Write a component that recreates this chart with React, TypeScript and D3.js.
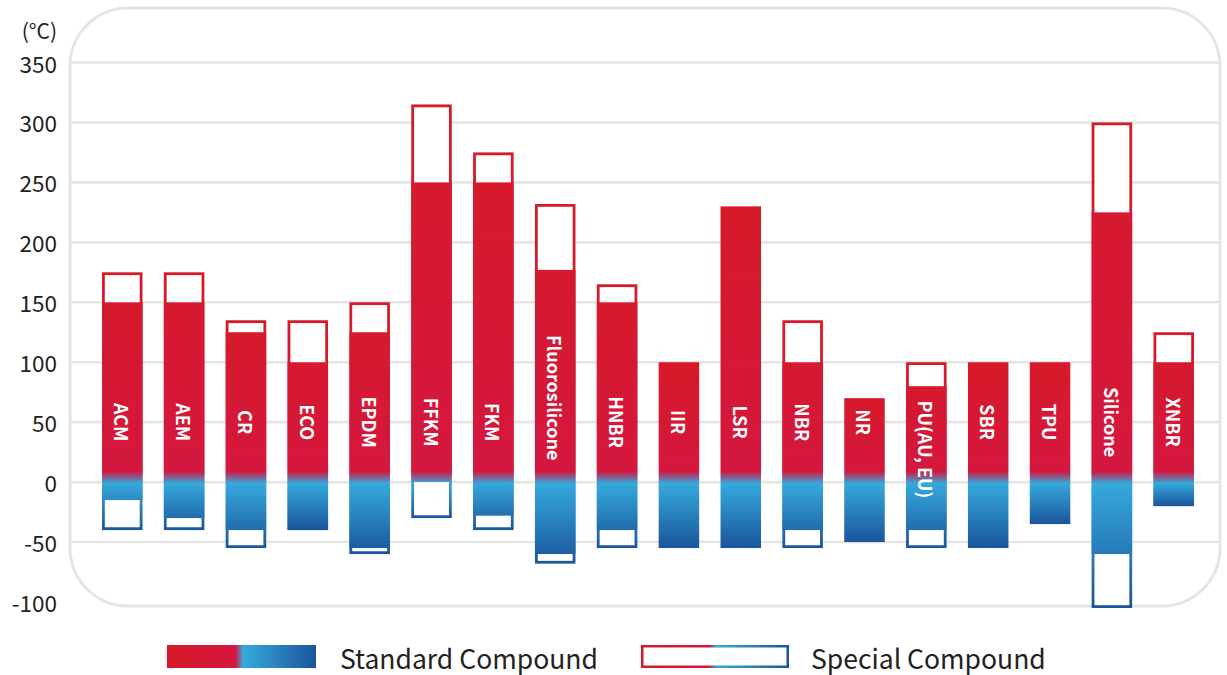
import React from "react";
import * as d3 from "d3";

const categories = ["ACM","AEM","CR","ECO","EPDM","FFKM","FKM","Fluorosilicone","HNBR","IIR","LSR","NBR","NR","PU(AU, EU)","SBR","TPU","Silicone","XNBR"];
const standardHigh = [150,150,125,100,125,250,250,177,150,100,230,100,70,80,100,100,225,100];
const standardLow = [-15,-30,-40,-40,-55,0,-28,-60,-40,-55,-55,-40,-50,-40,-55,-35,-60,-20];
const specialHigh: (number|null)[] = [175,175,135,135,150,315,275,232,165,null,null,135,null,100,null,null,300,125];
const specialLow: (number|null)[] = [-40,-40,-55,-40,-60,-30,-40,-68,-55,null,null,-55,null,-55,null,null,-105,null];
const yTicks = [350,300,250,200,150,100,50,0,-50,-100];
const unitLabel = "(°C)";
const legendLabels = ["Standard Compound","Special Compound"];

const W = 1227, H = 675;
const FONT = "'Noto Sans CJK JP', 'Noto Sans', sans-serif";
const RED_TOP = "#d61a29";
const RED_BOT = "#d4173e";
const BLUE_LIGHT = "#36a9dc";
const BLUE_DARK = "#1a559c";

export default function App() {
  const y = d3.scaleLinear().domain([-100, 350]).range([602, 62.5]);
  const x = d3.scaleBand<string>().domain(categories).range([102, 1194]).paddingInner(0.345).paddingOuter(0);
  const frame = { x: 70, y: 8, w: 1150, h: 598, r: 58 };

  const bars = categories.map((c, i) => {
    const sh = specialHigh[i], sl = specialLow[i];
    const top = Math.max(standardHigh[i], sh ?? -Infinity);
    const bot = Math.min(standardLow[i], sl ?? Infinity);
    return { c, i, sh, sl, top, bot, hi: standardHigh[i], lo: standardLow[i] };
  });

  const off = (v: number, top: number, bot: number) => {
    const o = (y(v) - y(top)) / (y(bot) - y(top));
    return Math.max(0, Math.min(1, o));
  };

  return (
    <svg width={W} height={H} style={{ position: "absolute", left: 0, top: 0, background: "#fff" }} fontFamily={FONT}>
      <defs>
        <clipPath id="frameClip">
          <rect x={frame.x} y={frame.y} width={frame.w} height={frame.h} rx={frame.r} ry={frame.r} />
        </clipPath>
        {bars.map(b => (
          <linearGradient key={b.c} id={`g${b.i}`} gradientUnits="userSpaceOnUse" x1={0} x2={0} y1={y(b.top)} y2={y(b.bot)}>
            <stop offset={0} stopColor={RED_TOP} />
            <stop offset={off(9, b.top, b.bot)} stopColor={RED_BOT} />
            <stop offset={off(-1, b.top, b.bot)} stopColor={BLUE_LIGHT} />
            <stop offset={1} stopColor={BLUE_DARK} />
          </linearGradient>
        ))}
        <linearGradient id="legG" x1="0" x2="1" y1="0" y2="0">
          <stop offset={0} stopColor={RED_TOP} />
          <stop offset={0.46} stopColor={RED_BOT} />
          <stop offset={0.51} stopColor={BLUE_LIGHT} />
          <stop offset={1} stopColor={BLUE_DARK} />
        </linearGradient>
      </defs>

      {/* frame */}
      <g clipPath="url(#frameClip)">
        {yTicks.filter(t => t > -100).map(t => (
          <line key={t} x1={frame.x} x2={frame.x + frame.w} y1={y(t)} y2={y(t)} stroke="#e5e5e5" strokeWidth={2.6} />
        ))}
      </g>
      <rect x={frame.x} y={frame.y} width={frame.w} height={frame.h} rx={frame.r} ry={frame.r} fill="none" stroke="#e5e5e5" strokeWidth={3} />

      {/* y labels */}
      {yTicks.map(t => (
        <text key={t} x={57} y={y(t)} textAnchor="end" dominantBaseline="central" fontSize={22.5} fill="#222">{t}</text>
      ))}
      <text x={57} y={30} textAnchor="end" dominantBaseline="central" fontSize={21} fill="#222">{unitLabel}</text>

      {/* bars */}
      {bars.map(b => {
        const bx = x(b.c)!;
        const bw = x.bandwidth();
        const fill = `url(#g${b.i})`;
        const els: React.ReactNode[] = [];
        if (b.sh != null || b.sl != null) {
          const st = b.sh ?? b.hi, sb = b.sl ?? b.lo;
          els.push(<rect key="so" x={bx} y={y(st)} width={bw} height={y(sb) - y(st)} fill={fill} />);
          els.push(<rect key="si" x={bx + 2.8} y={y(st) + 2.8} width={bw - 5.6} height={y(sb) - y(st) - 5.6} fill="#fff" />);
        }
        els.push(<rect key="st" x={bx} y={y(b.hi)} width={bw} height={y(b.lo) - y(b.hi)} fill={fill} />);
        const cx = bx + bw / 2;
        let anchor: "middle" | "start" | "end" = "middle";
        let ly = y(50);
        if (b.c.length > 12) { anchor = "end"; ly = y(18); }
        else if (b.c.includes("(")) { anchor = "start"; ly = y(68); }
        els.push(
          <text key="lb" x={cx} y={ly} transform={`rotate(90 ${cx} ${ly})`} textAnchor={anchor} dominantBaseline="central"
            fontSize={18} fontWeight="bold" fill="#fff">{b.c}</text>
        );
        return <g key={b.c}>{els}</g>;
      })}

      {/* legend */}
      <rect x={167} y={645} width={149} height={23} fill="url(#legG)" />
      <text x={340} y={657} dominantBaseline="central" fontSize={26.5} fill="#222">{legendLabels[0]}</text>
      <rect x={641} y={645} width={148} height={23} fill="url(#legG)" />
      <rect x={643.5} y={647.5} width={143} height={18} fill="#fff" />
      <text x={811} y={657} dominantBaseline="central" fontSize={26.5} fill="#222">{legendLabels[1]}</text>
    </svg>
  );
}
